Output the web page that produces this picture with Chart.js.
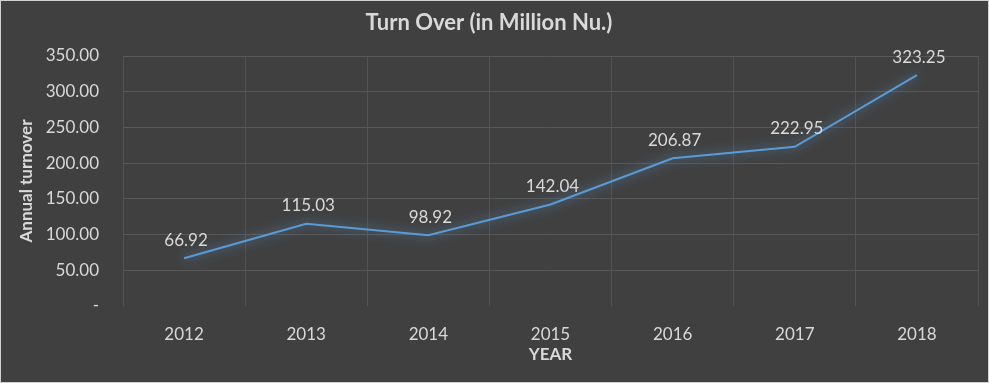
<!DOCTYPE html>
<html>
<head>
<meta charset="utf-8">
<script src="https://cdn.jsdelivr.net/npm/chart.js@4.4.1/dist/chart.umd.min.js"></script>
<style>
html,body{margin:0;padding:0;background:#404040;}
#wrap{width:989px;height:383px;position:relative;}
canvas{display:block;}
</style>
</head>
<body>
<div id="wrap"><canvas id="c" width="989" height="383"></canvas></div>
<script>
const categories = ['2012','2013','2014','2015','2016','2017','2018'];
const turnover = [66.92, 115.03, 98.92, 142.04, 206.87, 222.95, 323.25];
const yTicks = [0, 50, 100, 150, 200, 250, 300, 350];

const FONT = 'Lato, "Open Sans", sans-serif';
const TXT = '#d9d9d9';
const GRID = '#585858';
const LINE = '#5b9bd5';

const bgPlugin = {
  id: 'bg',
  beforeDraw(chart) {
    const ctx = chart.ctx;
    ctx.save();
    ctx.fillStyle = '#404040';
    ctx.fillRect(0, 0, chart.width, chart.height);
    ctx.strokeStyle = '#d0d0d0';
    ctx.lineWidth = 1;
    ctx.strokeRect(0.5, 0.5, chart.width - 1, chart.height - 1);
    ctx.restore();
  }
};

const glowPlugin = {
  id: 'glow',
  beforeDatasetDraw(chart) {
    const ctx = chart.ctx;
    ctx.save();
    ctx.shadowColor = 'rgba(91,155,213,0.95)';
    ctx.shadowBlur = 11;
  },
  afterDatasetDraw(chart) {
    chart.ctx.restore();
  }
};

const labelPlugin = {
  id: 'labels',
  afterDatasetsDraw(chart) {
    const ctx = chart.ctx;
    const meta = chart.getDatasetMeta(0);
    ctx.save();
    ctx.font = '17px ' + FONT;
    ctx.fillStyle = TXT;
    ctx.textAlign = 'center';
    ctx.textBaseline = 'middle';
    meta.data.forEach((pt, i) => {
      ctx.fillText(turnover[i].toFixed(2), pt.x + 2, pt.y - 18);
    });
    ctx.restore();
  }
};

new Chart(document.getElementById('c'), {
  type: 'line',
  data: {
    labels: categories,
    datasets: [{
      data: turnover,
      borderColor: LINE,
      borderWidth: 2,
      pointRadius: 0,
      tension: 0,
      fill: false
    }]
  },
  options: {
    responsive: false,
    animation: false,
    devicePixelRatio: 1,
    layout: { padding: { left: 0, right: 11, top: 0, bottom: 0 } },
    plugins: {
      legend: { display: false },
      tooltip: { enabled: false },
      title: {
        display: true,
        text: 'Turn Over (in Million Nu.)',
        color: TXT,
        font: { family: FONT, size: 22, weight: 'bold', lineHeight: 1.2 },
        padding: { top: 9.8, bottom: 19.8 }
      }
    },
    scales: {
      x: {
        offset: true,
        grid: { display: true, offset: true, color: '#535353', drawTicks: false, lineWidth: 1 },
        border: { display: false },
        ticks: { color: TXT, font: { family: FONT, size: 17 }, padding: 18, maxRotation: 0 },
        title: {
          display: true, text: 'YEAR', color: TXT,
          font: { family: FONT, size: 17, weight: 'bold', lineHeight: 1.2 },
          padding: { top: 0, bottom: 17.8 }
        },
        afterFit(scale) { scale.height = 77; }
      },
      y: {
        min: 0, max: 350,
        afterBuildTicks(scale) { scale.ticks = yTicks.map(v => ({ value: v })); },
        grid: {
          color: (c) => (c.tick && c.tick.value === 0) ? 'rgba(0,0,0,0)' : GRID,
          drawTicks: false, lineWidth: 1
        },
        border: { display: false },
        ticks: {
          color: TXT, font: { family: FONT, size: 17 }, padding: 24,
          callback: (v) => v === 0 ? '-' : Number(v).toFixed(2)
        },
        title: {
          display: true, text: 'Annual turnover', color: TXT,
          font: { family: FONT, size: 17, weight: 'bold', lineHeight: 1.2 },
          padding: { top: 16, bottom: 0 }
        },
        afterFit(scale) { scale.width = 123; }
      }
    }
  },
  plugins: [bgPlugin, glowPlugin, labelPlugin]
});
</script>
</body>
</html>
